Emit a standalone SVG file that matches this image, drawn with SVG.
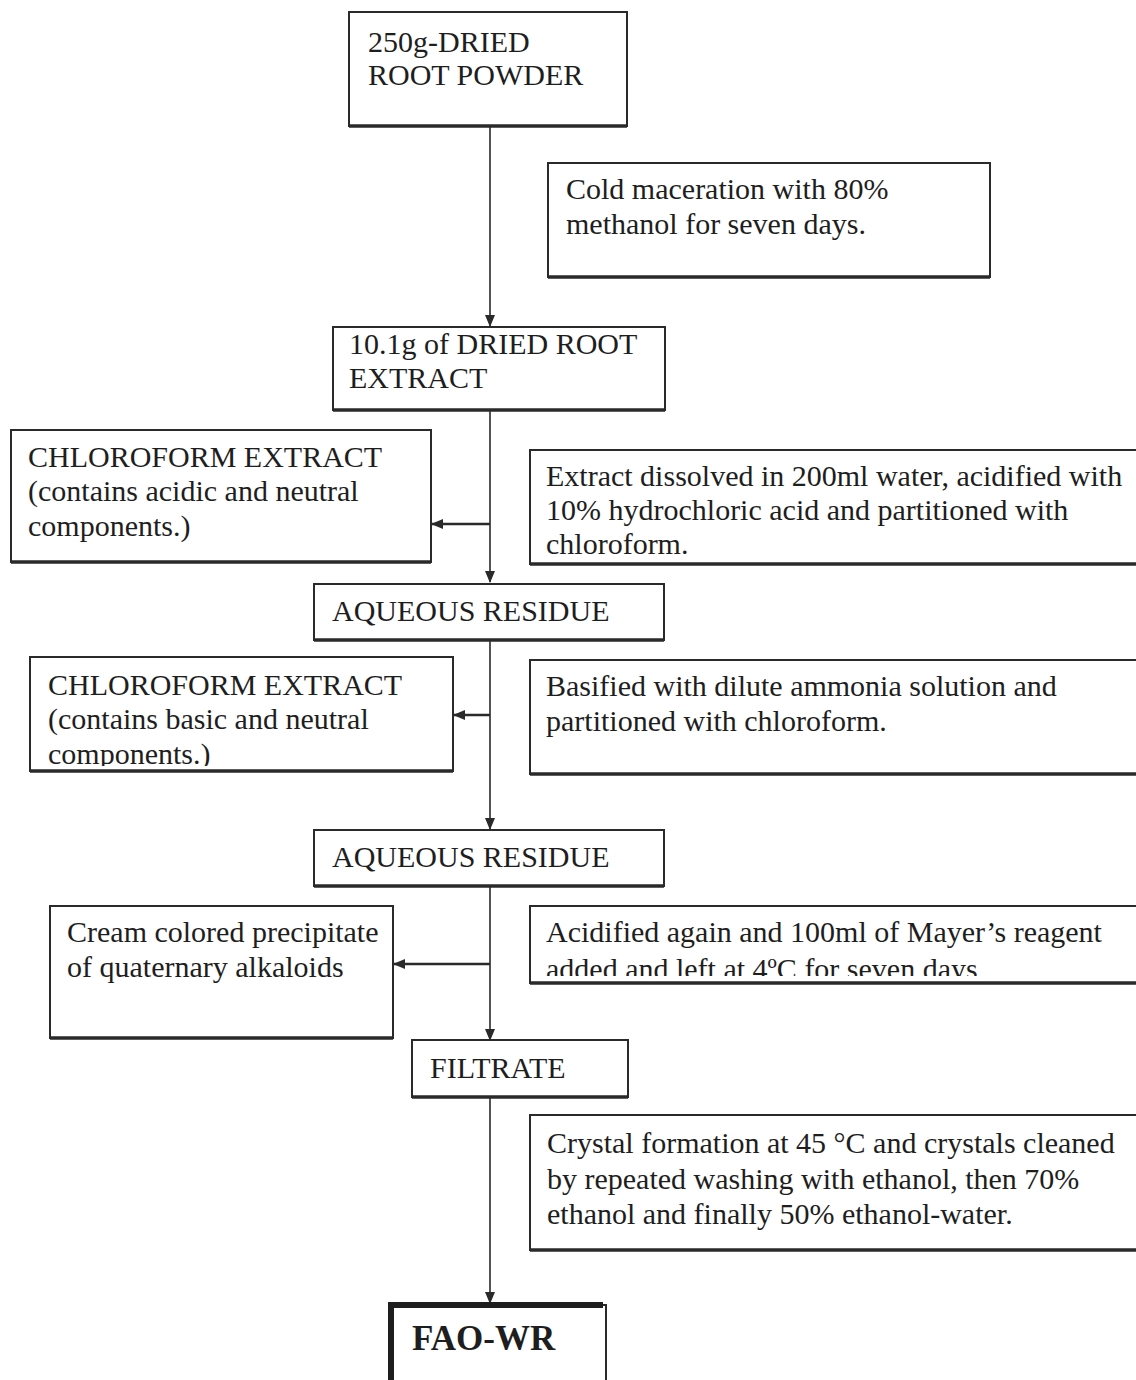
<svg xmlns="http://www.w3.org/2000/svg" width="1136" height="1380" viewBox="0 0 1136 1380">
<defs>
<style>
.bx{fill:#fff;stroke:#2a2a2a;stroke-width:2}
.sh{stroke:#2a2a2a;stroke-width:3.5;fill:none}
.t{font-family:"Liberation Serif","Times New Roman",serif;font-size:30px;fill:#1e1e1e}
.b{font-family:"Liberation Serif","Times New Roman",serif;font-size:35px;font-weight:bold;fill:#1e1e1e}
.ln{stroke:#2a2a2a;stroke-width:1.6;fill:none}
.lh{stroke:#2a2a2a;stroke-width:2.6;fill:none}
</style>
<marker id="ah" viewBox="0 0 12 10" refX="11" refY="5" markerWidth="12" markerHeight="10" markerUnits="userSpaceOnUse" orient="auto">
<path d="M0,0 L12,5 L0,10 Z" fill="#2a2a2a"/>
</marker>
<clipPath id="c3"><rect x="530" y="906" width="610" height="70"/></clipPath>
<clipPath id="c2"><rect x="30" y="657" width="424" height="109"/></clipPath>
</defs>
<rect width="1136" height="1380" fill="#fff"/>

<g id="connectors">
<line class="ln" x1="490" y1="126" x2="490" y2="326" marker-end="url(#ah)"/>
<line class="ln" x1="490" y1="410" x2="490" y2="582" marker-end="url(#ah)"/>
<line class="lh" x1="490" y1="524" x2="432" y2="524" marker-end="url(#ah)"/>
<line class="ln" x1="490" y1="640" x2="490" y2="829" marker-end="url(#ah)"/>
<line class="lh" x1="490" y1="715" x2="454" y2="715" marker-end="url(#ah)"/>
<line class="ln" x1="490" y1="886" x2="490" y2="1040" marker-end="url(#ah)"/>
<line class="lh" x1="490" y1="964" x2="394" y2="964" marker-end="url(#ah)"/>
<line class="ln" x1="490" y1="1097" x2="490" y2="1303" marker-end="url(#ah)"/>
</g>

<g id="n1">
<rect class="bx" x="349" y="12" width="278" height="114"/>
<line class="sh" x1="349" y1="126" x2="627" y2="126"/>
<text class="t" x="368" y="52">250g-DRIED</text>
<text class="t" x="368" y="85">ROOT POWDER</text>
</g>

<g id="s1">
<rect class="bx" x="548" y="163" width="442" height="114"/>
<line class="sh" x1="548" y1="277" x2="990" y2="277"/>
<text class="t" x="566" y="199">Cold maceration with 80%</text>
<text class="t" x="566" y="234">methanol for seven days.</text>
</g>

<g id="n2">
<rect class="bx" x="333" y="327" width="332" height="83"/>
<line class="sh" x1="333" y1="410" x2="665" y2="410"/>
<text class="t" x="349" y="354">10.1g of DRIED ROOT</text>
<text class="t" x="349" y="388">EXTRACT</text>
</g>

<g id="l1">
<rect class="bx" x="11" y="430" width="420" height="132"/>
<line class="sh" x1="11" y1="562" x2="431" y2="562"/>
<text class="t" x="28" y="467">CHLOROFORM EXTRACT</text>
<text class="t" x="28" y="501">(contains acidic and neutral</text>
<text class="t" x="28" y="536">components.)</text>
</g>

<g id="s2">
<rect class="bx" x="530" y="450" width="612" height="114"/>
<line class="sh" x1="530" y1="564" x2="1142" y2="564"/>
<text class="t" x="546" y="486">Extract dissolved in 200ml water, acidified with</text>
<text class="t" x="546" y="520">10% hydrochloric acid and partitioned with</text>
<text class="t" x="546" y="554">chloroform.</text>
</g>

<g id="n3">
<rect class="bx" x="314" y="584" width="350" height="56"/>
<line class="sh" x1="314" y1="640" x2="664" y2="640"/>
<text class="t" x="332" y="621">AQUEOUS RESIDUE</text>
</g>

<g id="l2">
<rect class="bx" x="30" y="657" width="423" height="114"/>
<g clip-path="url(#c2)">
<text class="t" x="48" y="695">CHLOROFORM EXTRACT</text>
<text class="t" x="48" y="729">(contains basic and neutral</text>
<text class="t" x="48" y="764">components.)</text>
</g>
<line class="sh" x1="30" y1="771" x2="453" y2="771"/>
</g>

<g id="s3">
<rect class="bx" x="530" y="660" width="612" height="114"/>
<line class="sh" x1="530" y1="774" x2="1142" y2="774"/>
<text class="t" x="546" y="696">Basified with dilute ammonia solution and</text>
<text class="t" x="546" y="731">partitioned with chloroform.</text>
</g>

<g id="n4">
<rect class="bx" x="314" y="830" width="350" height="56"/>
<line class="sh" x1="314" y1="886" x2="664" y2="886"/>
<text class="t" x="332" y="867">AQUEOUS RESIDUE</text>
</g>

<g id="l3">
<rect class="bx" x="50" y="906" width="343" height="132"/>
<line class="sh" x1="50" y1="1038" x2="393" y2="1038"/>
<text class="t" x="67" y="942">Cream colored precipitate</text>
<text class="t" x="67" y="977">of quaternary alkaloids</text>
</g>

<g id="s4">
<rect class="bx" x="530" y="906" width="612" height="77"/>
<g clip-path="url(#c3)">
<text class="t" x="546" y="942">Acidified again and 100ml of Mayer’s reagent</text>
<text class="t" x="546" y="979">added and left at 4ºC for seven days</text>
</g>
<line class="sh" x1="530" y1="983" x2="1142" y2="983"/>
</g>

<g id="n5">
<rect class="bx" x="412" y="1040" width="216" height="57"/>
<line class="sh" x1="412" y1="1097" x2="628" y2="1097"/>
<text class="t" x="430" y="1078">FILTRATE</text>
</g>

<g id="s5">
<rect class="bx" x="530" y="1115" width="612" height="135"/>
<line class="sh" x1="530" y1="1250" x2="1142" y2="1250"/>
<text class="t" x="547" y="1153">Crystal formation at 45 °C and crystals cleaned</text>
<text class="t" x="547" y="1189">by repeated washing with ethanol, then 70%</text>
<text class="t" x="547" y="1224">ethanol and finally 50% ethanol-water.</text>
</g>

<g id="n6">
<rect class="bx" x="390" y="1305" width="216" height="90"/>
<line stroke="#1e1e1e" stroke-width="6" x1="388" y1="1305" x2="603" y2="1305"/>
<line stroke="#1e1e1e" stroke-width="6" x1="391" y1="1302" x2="391" y2="1380"/>
<text class="b" x="412" y="1350">FAO-WR</text>
</g>
</svg>
